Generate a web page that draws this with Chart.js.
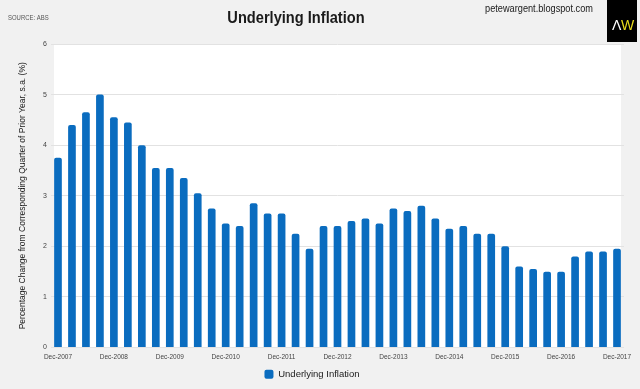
<!DOCTYPE html>
<html>
<head>
<meta charset="utf-8">
<script src="https://cdn.jsdelivr.net/npm/chart.js@4/dist/chart.umd.min.js"></script>
<style>
    html, body { margin: 0; padding: 0; background: #f1f1f1; }
    #wrap { width: 640px; height: 389px; position: relative; }
</style>
</head>
<body>
<div id="wrap"><canvas id="myChart"></canvas></div>
<script>
const quarters = [
    'Dec-2007', 'Mar-2008', 'Jun-2008', 'Sep-2008',
    'Dec-2008', 'Mar-2009', 'Jun-2009', 'Sep-2009',
    'Dec-2009', 'Mar-2010', 'Jun-2010', 'Sep-2010',
    'Dec-2010', 'Mar-2011', 'Jun-2011', 'Sep-2011',
    'Dec-2011', 'Mar-2012', 'Jun-2012', 'Sep-2012',
    'Dec-2012', 'Mar-2013', 'Jun-2013', 'Sep-2013',
    'Dec-2013', 'Mar-2014', 'Jun-2014', 'Sep-2014',
    'Dec-2014', 'Mar-2015', 'Jun-2015', 'Sep-2015',
    'Dec-2015', 'Mar-2016', 'Jun-2016', 'Sep-2016',
    'Dec-2016', 'Mar-2017', 'Jun-2017', 'Sep-2017',
    'Dec-2017'
];
const underlying = [
    3.75, 4.4, 4.65, 5.0,
    4.55, 4.45, 4.0, 3.55,
    3.55, 3.35, 3.05, 2.75,
    2.45, 2.4, 2.85, 2.65,
    2.65, 2.25, 1.95, 2.4,
    2.4, 2.5, 2.55, 2.45,
    2.75, 2.7, 2.8, 2.55,
    2.35, 2.4, 2.25, 2.25,
    2.0, 1.6, 1.55, 1.5,
    1.5, 1.8, 1.9, 1.9,
    1.95
];
const yTicks = [0, 1, 2, 3, 4, 5, 6];

const family = "'Liberation Sans', Arial, sans-serif";

// narrow-looking text: squeeze horizontally
function narrowText(ctx, text, x, y, sx) {
    ctx.save();
    ctx.translate(x, y);
    ctx.scale(sx, 1);
    ctx.fillText(text, 0, 0);
    ctx.restore();
}

// white plot panel + header texts
const decor = {
    id: 'decor',
    beforeDraw(chart) {
        const { ctx, chartArea } = chart;
        ctx.save();
        ctx.fillStyle = '#ffffff';
        ctx.fillRect(chartArea.left + 3, chartArea.top, chartArea.right - chartArea.left - 6, chartArea.bottom - chartArea.top);
        ctx.restore();
    },
    afterDraw(chart) {
        const ctx = chart.ctx;
        ctx.save();
        ctx.textBaseline = 'middle';

        ctx.fillStyle = '#555555';
        ctx.font = '7px ' + family;
        ctx.textAlign = 'left';
        narrowText(ctx, 'SOURCE: ABS', 8, 18, 0.85);

        ctx.fillStyle = '#1a1a1a';
        ctx.font = 'bold 17px ' + family;
        ctx.textAlign = 'center';
        narrowText(ctx, 'Underlying Inflation', 296, 18, 0.86);

        ctx.font = '10px ' + family;
        narrowText(ctx, 'petewargent.blogspot.com', 539, 9, 0.92);

        ctx.fillStyle = '#000000';
        ctx.fillRect(607, 0, 30, 42);
        ctx.font = '14px ' + family;
        ctx.textAlign = 'left';
        ctx.fillStyle = '#ffffff';
        ctx.fillText('Λ', 612, 26);
        ctx.fillStyle = '#e8dc1c';
        ctx.fillText('W', 621, 26);
        ctx.restore();
    }
};

function chart() {
    let ctx = document.getElementById('myChart').getContext('2d');
    new Chart(ctx, {
        type: 'bar',
        data: {
            labels: quarters,
            datasets: [{
                label: 'Underlying Inflation',
                data: underlying,
                backgroundColor: '#0a6cbf',
                borderWidth: 0,
                borderRadius: { topLeft: 2, topRight: 2 },
                borderSkipped: 'bottom',
                barPercentage: 0.55,
                categoryPercentage: 1.0
            }]
        },
        options: {
            responsive: true,
            maintainAspectRatio: false,
            animation: false,
            layout: {
                padding: { top: 44, right: 16, bottom: 0, left: 0 }
            },
            scales: {
                x: {
                    offset: true,
                    grid: { display: false, drawTicks: false },
                    border: { display: false },
                    ticks: {
                        autoSkip: false,
                        maxRotation: 0,
                        padding: 6,
                        color: '#444444',
                        font: { family: family, size: 6.5 },
                        callback: function (value, index) {
                            return index % 4 === 0 ? quarters[index] : '';
                        }
                    },
                    afterFit: function (scale) { scale.height = 18; }
                },
                y: {
                    min: 0,
                    max: 6,
                    afterBuildTicks: function (scale) {
                        scale.ticks = yTicks.map((v) => ({ value: v }));
                    },
                    grid: { color: '#e2e2e2', drawTicks: false },
                    border: { display: false },
                    ticks: {
                        padding: 4,
                        color: '#444444',
                        font: { family: family, size: 7 }
                    },
                    title: {
                        display: true,
                        text: 'Percentage Change from Corresponding Quarter of Prior Year, s.a. (%)',
                        color: '#1a1a1a',
                        font: { family: family, size: 8.5 },
                        padding: { top: 18, bottom: 0 }
                    },
                    afterFit: function (scale) { scale.width = 51; }
                }
            },
            plugins: {
                legend: {
                    position: 'bottom',
                    labels: {
                        color: '#1a1a1a',
                        boxWidth: 9,
                        boxHeight: 9,
                        useBorderRadius: true,
                        borderRadius: 2,
                        padding: 4,
                        font: { family: family, size: 9.5 }
                    }
                },
                tooltip: { enabled: false }
            }
        },
        plugins: [decor]
    });
}

window.addEventListener('DOMContentLoaded', (event) => {
    chart();
});
</script>
</body>
</html>
